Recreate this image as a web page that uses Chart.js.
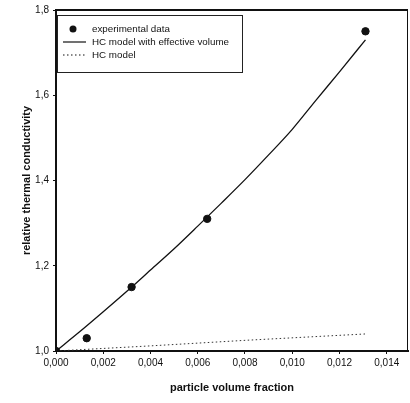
<!DOCTYPE html>
<html>
<head>
<meta charset="utf-8">
<script src="https://cdn.jsdelivr.net/npm/chart.js@4/dist/chart.umd.min.js"></script>
<style>
  html, body { margin: 0; padding: 0; background: #fff; }
  #wrap { width: 410px; height: 403px; }
</style>
</head>
<body>
<div id="wrap"><canvas id="grafico"></canvas></div>
<script>
// values
var expX = [0, 0.0013, 0.0032, 0.0064, 0.0131];
var expY = [1.0, 1.03, 1.15, 1.31, 1.75];

var effX = [0, 0.001, 0.002, 0.003, 0.004, 0.005, 0.006, 0.007, 0.008, 0.009, 0.010, 0.011, 0.012, 0.0131];
var effY = [1.0, 1.045, 1.092, 1.14, 1.19, 1.24, 1.293, 1.347, 1.402, 1.46, 1.52, 1.588, 1.655, 1.73];

var hcX = [0, 0.004, 0.008, 0.0131];
var hcY = [1.0, 1.012, 1.025, 1.04];

var xTicks = [0, 0.002, 0.004, 0.006, 0.008, 0.010, 0.012, 0.014];
var yTicks = [1.0, 1.2, 1.4, 1.6, 1.8];

function pts(xs, ys) {
    return xs.map(function (x, i) { return { x: x, y: ys[i] }; });
}
function comma(v, d) {
    return v.toFixed(d).replace('.', ',');
}

// legend box drawn inside the plot, top left
var insideLegend = {
    id: 'insideLegend',
    afterDraw: function (chart) {
        var c = chart.ctx;
        var a = chart.chartArea;
        var x0 = a.left + 1, y0 = a.top + 5, w = 185, h = 57;
        c.save();
        c.fillStyle = '#fff';
        c.fillRect(x0, y0, w, h);
        c.strokeStyle = '#222';
        c.lineWidth = 1;
        c.strokeRect(x0 + 0.5, y0 + 0.5, w, h);
        c.font = '9.8px "Liberation Sans", Arial, sans-serif';
        c.textBaseline = 'middle';
        c.fillStyle = '#111';
        var rows = [y0 + 14, y0 + 27, y0 + 40];
        chart.data.datasets.forEach(function (ds, i) {
            var ry = rows[i];
            if (ds.showLine === false) {
                c.beginPath();
                c.arc(x0 + 16, ry, 3.5, 0, Math.PI * 2);
                c.fill();
            } else {
                c.beginPath();
                c.strokeStyle = '#111';
                c.lineWidth = 1.2;
                c.setLineDash(ds.borderDash || []);
                c.moveTo(x0 + 6, ry);
                c.lineTo(x0 + 29, ry);
                c.stroke();
                c.setLineDash([]);
            }
            c.fillText(ds.label, x0 + 35, ry);
        });
        c.restore();
    }
};

// frame on top and right like the original plot box
var frameBox = {
    id: 'frameBox',
    beforeDatasetsDraw: function (chart) {
        var c = chart.ctx, a = chart.chartArea;
        c.save();
        c.strokeStyle = '#111';
        c.lineWidth = 2;
        c.beginPath();
        c.moveTo(a.left, a.top);
        c.lineTo(a.right, a.top);
        c.stroke();
        c.lineWidth = 1;
        c.beginPath();
        c.moveTo(a.right - 0.5, a.top);
        c.lineTo(a.right - 0.5, a.bottom);
        c.stroke();
        c.restore();
    }
};

var ctx = document.getElementById('grafico').getContext('2d');
var grafico = new Chart(ctx, {
type: 'scatter',
data: {
    datasets: [{
        label: 'experimental data',
        data: pts(expX, expY),
        showLine: false,
        pointRadius: 3.7,
        pointBackgroundColor: '#111',
        pointBorderColor: '#111'
    },
    {
        label: 'HC model with effective volume',
        data: pts(effX, effY),
        showLine: true,
        borderColor: '#111',
        borderWidth: 1.3,
        pointRadius: 0,
        cubicInterpolationMode: 'monotone',
        fill: false
    },
    {
        label: 'HC model',
        data: pts(hcX, hcY),
        showLine: true,
        borderColor: '#333',
        borderWidth: 1,
        borderDash: [1.5, 2.5],
        pointRadius: 0,
        fill: false
    }]
},
plugins: [insideLegend, frameBox],
options: {
    responsive: true,
    maintainAspectRatio: false,
    animation: false,
    layout: { autoPadding: false, padding: { top: 6, right: 2, left: 0, bottom: 0 } },
    scales: {
        x: {
            type: 'linear',
            min: 0,
            max: 0.0149,
            afterBuildTicks: function (axis) {
                axis.ticks = xTicks.map(function (v) { return { value: v }; });
            },
            afterFit: function (axis) {
                axis.height = 52;
                axis.paddingLeft = 0;
                axis.paddingRight = 0;
            },
            grid: { display: true, drawOnChartArea: false, drawTicks: true, tickLength: 3, color: '#111' },
            border: { display: true, color: '#111', width: 2 },
            ticks: {
                color: '#111',
                padding: 3,
                maxRotation: 0,
                font: { family: '"Liberation Sans", Arial, sans-serif', size: 10 },
                callback: function (v) { return comma(v, 3); }
            },
            title: {
                display: true,
                text: 'particle volume fraction',
                color: '#111',
                padding: { top: 6, bottom: 8 },
                font: { family: '"Liberation Sans", Arial, sans-serif', size: 11, weight: 'bold' }
            }
        },
        y: {
            min: 1.0,
            max: 1.8,
            afterBuildTicks: function (axis) {
                axis.ticks = yTicks.map(function (v) { return { value: v }; });
            },
            afterFit: function (axis) { axis.width = 56; },
            grid: { display: true, drawOnChartArea: false, drawTicks: true, tickLength: 3, color: '#111' },
            border: { display: true, color: '#111', width: 2 },
            ticks: {
                color: '#111',
                padding: 4,
                font: { family: '"Liberation Sans", Arial, sans-serif', size: 10 },
                callback: function (v) { return comma(v, 1); }
            },
            title: {
                display: true,
                text: 'relative thermal conductivity',
                color: '#111',
                padding: { top: 20, bottom: 0 },
                font: { family: '"Liberation Sans", Arial, sans-serif', size: 11, weight: 'bold' }
            }
        }
    },
    plugins: {
        legend: { display: false },
        tooltip: { enabled: false }
    }
}
});
</script>
</body>
</html>
